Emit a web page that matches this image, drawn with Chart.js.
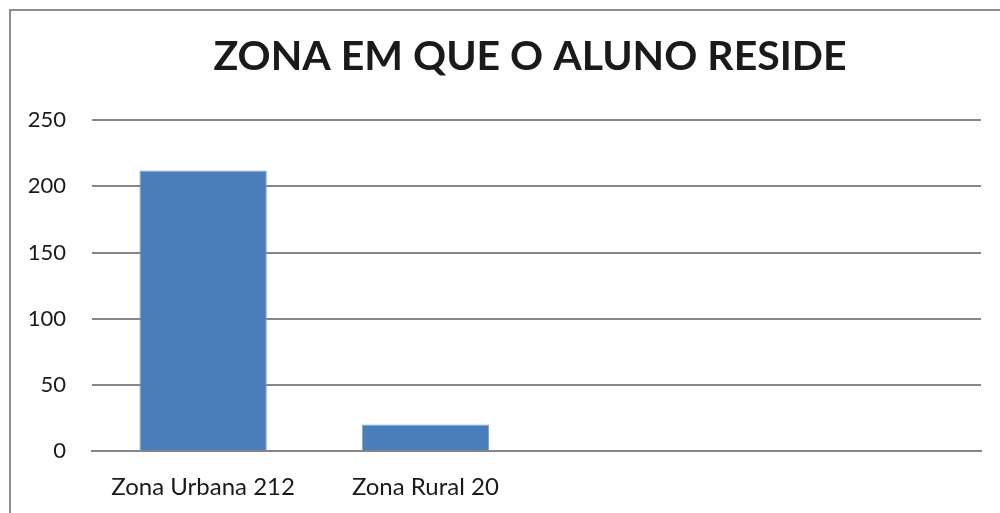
<!DOCTYPE html>
<html>
<head>
<meta charset="utf-8">
<script src="https://cdn.jsdelivr.net/npm/chart.js@4/dist/chart.umd.min.js"></script>
<style>
  html, body { margin: 0; padding: 0; background: #fff; overflow: hidden; }
  #frame {
    position: absolute; left: 9px; top: 9px; width: 1000px; height: 520px;
    border-left: 2px solid #8e8e8e; border-top: 2px solid #8e8e8e;
  }
  #chart { position: absolute; left: 0; top: 0; }
</style>
</head>
<body>
<div id="frame"></div>
<!-- canvas is wider than the window so the title can sit right of the plot centre, like the original -->
<canvas id="chart" width="1040" height="513"></canvas>
<script>
  const categories = ["Zona Urbana 212", "Zona Rural 20", "", ""];
  const alunos = [212, 20, null, null];
  const yTicks = [0, 50, 100, 150, 200, 250];

  const gridGray = "#868686";
  const fontFamily = "Lato, 'Open Sans', sans-serif";

  new Chart(document.getElementById("chart").getContext("2d"), {
    type: "bar",
    data: {
      labels: categories,
      datasets: [{
        label: "Alunos",
        data: alunos,
        backgroundColor: "#4a7ebb",
        borderColor: "#7ea4d4",
        borderWidth: 1,
        categoryPercentage: 1,
        barPercentage: 0.573
      }]
    },
    options: {
      responsive: false,
      animation: false,
      devicePixelRatio: 1,
      layout: { padding: { left: 20, right: 0, top: 0, bottom: 0 } },
      plugins: {
        legend: { display: false },
        tooltip: { enabled: false },
        title: {
          display: true,
          text: "ZONA EM QUE O ALUNO RESIDE",
          color: "#1a1a1a",
          font: { family: fontFamily, size: 41, weight: "bold" },
          padding: { top: 32, bottom: 39 }
        }
      },
      scales: {
        x: {
          grid: { display: false, drawTicks: false },
          border: { display: true, color: gridGray, width: 2 },
          ticks: { color: "#1a1a1a", font: { family: fontFamily, size: 24 }, padding: 22, maxRotation: 0 },
          afterFit: s => { s.height = 62; }
        },
        y: {
          min: 0,
          max: 250,
          afterBuildTicks: s => { s.ticks = yTicks.map(v => ({ value: v })); },
          grid: { color: gridGray, lineWidth: 2, drawTicks: false },
          border: { display: false },
          ticks: { color: "#1a1a1a", font: { family: fontFamily, size: 22 }, padding: 26 },
          afterFit: s => { s.width = 72; }
        },
        // empty spacer on the right, keeps the plot ending at x=981
        spacer: {
          type: "linear",
          position: "right",
          grid: { display: false },
          border: { display: false },
          ticks: { display: false },
          afterFit: s => { s.width = 59; }
        }
      }
    }
  });
</script>
</body>
</html>
